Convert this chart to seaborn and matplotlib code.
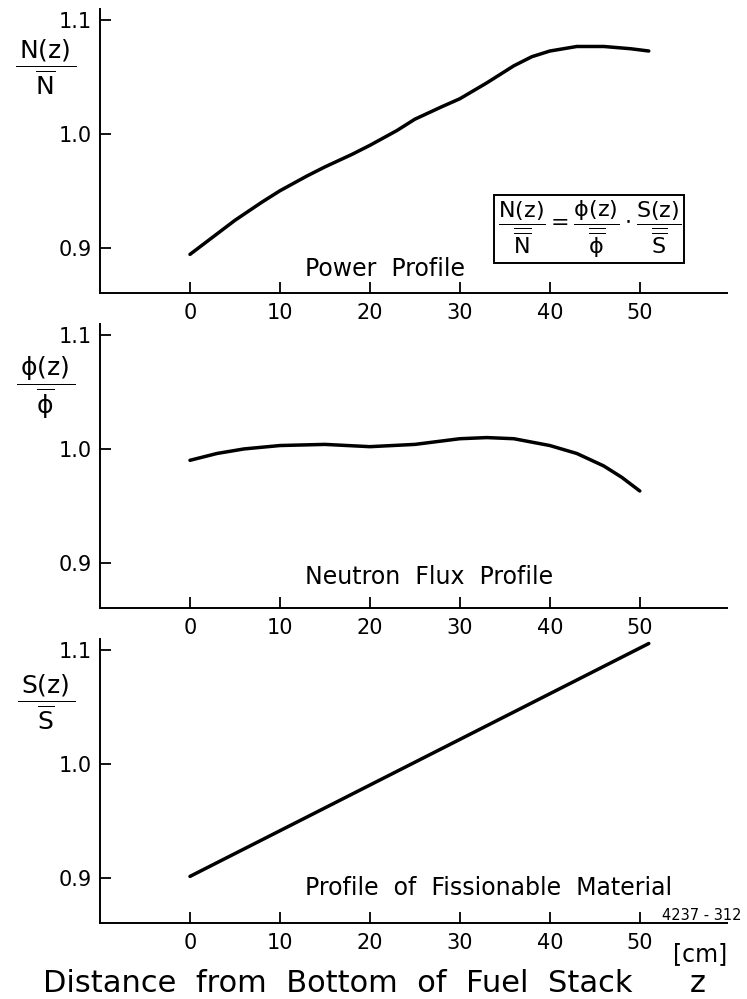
import numpy as np
import pandas as pd
import matplotlib
matplotlib.use("Agg")
import matplotlib.pyplot as plt
import seaborn as sns

# values (z in cm, ratios to the mean)
z_power = [0, 2, 5, 8, 10, 13, 15, 18, 20, 23, 25, 28, 30, 33, 36, 38, 40, 43, 46, 49, 51]
power = [0.894, 0.906, 0.924, 0.940, 0.950, 0.963, 0.971, 0.982, 0.990, 1.003, 1.013, 1.024,
         1.031, 1.045, 1.060, 1.068, 1.073, 1.077, 1.077, 1.075, 1.073]

z_flux = [0, 3, 6, 10, 15, 20, 25, 30, 33, 36, 40, 43, 46, 48, 50]
flux = [0.990, 0.996, 1.000, 1.003, 1.004, 1.002, 1.004, 1.009, 1.010, 1.009, 1.003, 0.996,
        0.985, 0.975, 0.963]

z_fiss = [0, 51]
fiss = [0.901, 1.106]

x_ticks = [0, 10, 20, 30, 40, 50]
y_ticks = [0.9, 1.0, 1.1]
y_tick_labels = ["0.9", "1.0", "1.1"]

panel_titles = ["Power  Profile", "Neutron  Flux  Profile", "Profile  of  Fissionable  Material"]
y_labels = [r"$\dfrac{\,\mathrm{N(z)}\,}{\overline{\mathrm{N}}}$",
            r"$\dfrac{\,\mathrm{ϕ(z)}\,}{\overline{\mathrm{ϕ}}}$",
            r"$\dfrac{\,\mathrm{S(z)}\,}{\overline{\mathrm{S}}}$"]
formula = (r"$\dfrac{\mathrm{N(z)}}{\overline{\overline{\mathrm{N}}}}=\dfrac{\mathrm{ϕ(z)}}"
           r"{\overline{\overline{\mathrm{ϕ}}}}\cdot\dfrac{\mathrm{S(z)}}{\overline{\overline{\mathrm{S}}}}$")

sns.set_theme(style="ticks")
plt.rcParams["font.family"] = ["DejaVu Sans"]
plt.rcParams["mathtext.fontset"] = "dejavusans"
plt.rcParams["text.color"] = "black"

fig = plt.figure(figsize=(7.47, 9.99), dpi=100)
fig.patch.set_facecolor("white")

left, width, height = 0.1339, 0.8394, 0.2843
bottoms = [0.7067, 0.3914, 0.0761]
series = [(z_power, power), (z_flux, flux), (z_fiss, fiss)]
title_pos = [(12.8, 0.881), (12.8, 0.887), (12.8, 0.891)]
label_y = [0.796, 0.775, 0.778]

for i in range(3):
    ax = fig.add_axes([left, bottoms[i], width, height])
    df = pd.DataFrame({"z": series[i][0], "v": series[i][1]})
    sns.lineplot(data=df, x="z", y="v", ax=ax, color="black", lw=2.5)
    ax.set_xlim(-10, 59.7)
    ax.set_ylim(0.86, 1.11)
    ax.set_xticks(x_ticks)
    ax.set_yticks(y_ticks)
    ax.set_yticklabels(y_tick_labels)
    ax.set(xlabel="", ylabel="")
    ax.set_facecolor("white")
    for s in ["top", "right"]:
        ax.spines[s].set_visible(False)
    for s in ["left", "bottom"]:
        ax.spines[s].set_linewidth(1.4)
        ax.spines[s].set_color("black")
    ax.tick_params(direction="in", length=8, width=1.3, labelsize=15, colors="black")
    ax.tick_params(axis="x", pad=7)
    ax.tick_params(axis="y", pad=6)
    ax.text(title_pos[i][0], title_pos[i][1], panel_titles[i], fontsize=17,
            ha="left", va="center")
    ax.text(-0.086, label_y[i], y_labels[i], transform=ax.transAxes, fontsize=18,
            ha="center", va="center")
    if i == 0:
        ax.text(44.4, 0.916, formula, fontsize=16, ha="center", va="center",
                bbox=dict(boxstyle="square,pad=0.15", fc="white", ec="black", lw=1.4))

fig.text(0.901, 0.045, "[cm]", fontsize=17, ha="left", va="center")
fig.text(0.847, 0.016, "Distance  from  Bottom  of  Fuel  Stack", fontsize=22,
         ha="right", va="center")
fig.text(0.934, 0.016, "z", fontsize=22, ha="center", va="center")
fig.text(0.993, 0.079, "4237 - 312", fontsize=10.5, ha="right", va="baseline")

fig.savefig("out.png", dpi=100, facecolor="white")
